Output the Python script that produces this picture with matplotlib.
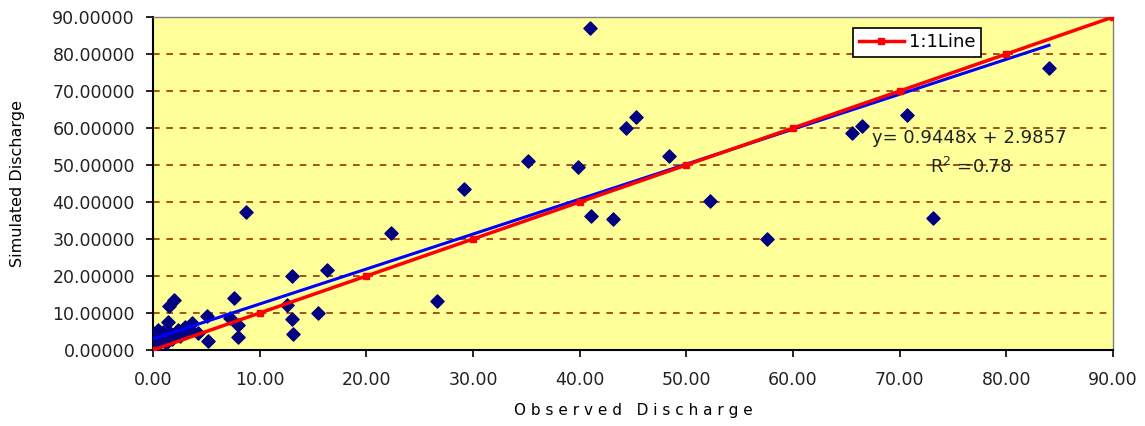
#!/usr/bin/env python3
import numpy as np
import matplotlib.pyplot as plt
from matplotlib.ticker import FormatStrFormatter, MultipleLocator

plt.rcParams.update({
    'font.family': 'DejaVu Sans',
    'font.size': 12,
})

observed = [41.0, 84.0, 65.5, 66.5, 70.7, 45.3, 44.3, 35.2, 39.8, 48.4,
            29.2, 41.1, 43.1, 52.2, 57.6, 73.1, 8.7, 22.3, 16.3, 13.0,
            26.6, 2.0, 1.5, 7.6, 5.1, 12.6, 13.0, 13.1, 15.5, 8.0,
            8.0, 5.2, 1.4, 7.2, 3.7, 3.0, 4.2, 0.5, 0.8, 0.4,
            2.1, 2.3, 0.3, 0.6, 1.0, 1.2, 1.8, 0.2, 2.5, 0.9,
            1.6, 3.5, 2.8, 0.1]
simulated = [87.0, 76.2, 58.6, 60.5, 63.5, 63.0, 60.0, 51.1, 49.5, 52.4,
             43.5, 36.2, 35.4, 40.3, 30.0, 35.7, 37.3, 31.6, 21.6, 20.0,
             13.2, 13.5, 11.8, 14.0, 9.3, 12.2, 8.4, 4.3, 10.0, 6.8,
             3.5, 2.3, 7.6, 8.6, 7.3, 6.2, 4.6, 5.4, 4.1, 3.2,
             4.1, 5.4, 1.0, 2.5, 3.5, 2.0, 3.0, 4.5, 3.8, 5.0,
             4.5, 5.5, 4.8, 0.3]

slope, intercept = 0.9448, 2.9857
one_to_one = [0, 10, 20, 30, 40, 50, 60, 70, 80, 90]

fig = plt.figure(figsize=(11.45, 4.26), dpi=100)
ax = fig.add_axes([153/1145, 1 - 350/426, 960/1145, 333/426])
ax.set_facecolor('#FFFF99')

for yv in range(10, 90, 10):
    ax.axhline(yv, color='#993300', linestyle=(0, (4, 4)), linewidth=1.2, zorder=1)

ax.scatter(observed, simulated, marker='D', s=45, color='#000080', zorder=3)

xfit = np.array([0, max(observed)])
ax.plot(xfit, slope*xfit + intercept, color='#0000FF', linewidth=2.2, zorder=4)
ax.plot(one_to_one, one_to_one, color='#FF0000', linewidth=2.5, marker='s',
        markersize=5, zorder=5, label='1:1Line')

ax.text(76.5, 57.3, f'y= {slope}x + {intercept}', ha='center', va='center',
        fontsize=13, color='#222222')
ax.text(76.7, 49.5, 'R$^2$ =0.78', ha='center', va='center', fontsize=13,
        color='#222222')

ax.set_xlim(0, 90)
ax.set_ylim(0, 90)
ax.xaxis.set_major_locator(MultipleLocator(10))
ax.yaxis.set_major_locator(MultipleLocator(10))
ax.xaxis.set_major_formatter(FormatStrFormatter('%.2f'))
ax.yaxis.set_major_formatter(FormatStrFormatter('%.5f'))
ax.tick_params(direction='out', length=5, width=1.2, labelsize=12.5, pad=10,
               labelcolor='#222222')
ax.tick_params(axis='y', pad=8)

for s in ['left', 'bottom']:
    ax.spines[s].set_color('black')
    ax.spines[s].set_linewidth(1.5)
for s in ['top', 'right']:
    ax.spines[s].set_color('#808080')
    ax.spines[s].set_linewidth(1.0)

ax.set_xlabel('O b s e r v e d   D i s c h a r g e', fontsize=11, labelpad=10)
ax.set_ylabel('Simulated Discharge', fontsize=11.5, labelpad=20)

leg = ax.legend(loc='upper right', bbox_to_anchor=(0.872, 0.995), fancybox=False,
                edgecolor='black', framealpha=1, fontsize=13, handlelength=2.5,
                borderpad=0.3, handletextpad=0.3)
leg.get_frame().set_linewidth(1.2)

fig.savefig('out.png', dpi=100)
